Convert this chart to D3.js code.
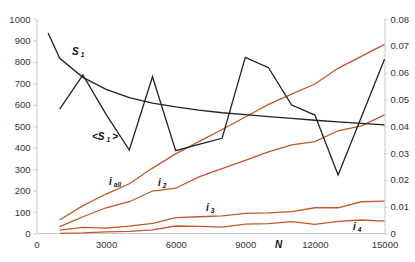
<!DOCTYPE html>
<meta charset="utf-8">
<title>S1, &lt;S1&gt; and i counts vs N</title>
<style>
    body {
        margin: 0;
        background: #fff;
        font-family: "Liberation Sans", Arial, sans-serif;
    }

    .axis path,
    .axis line {
        stroke: #c8c8c8;
    }

    .axis text {
        fill: #333;
        font-size: 9.5px;
        font-family: "Liberation Sans", Arial, sans-serif;
    }

    .lbl {
        font-weight: bold;
        font-style: italic;
        font-size: 10px;
        fill: #111;
    }

    .sub {
        font-size: 6.5px;
    }
</style>

<body>
    <svg width="415" height="262"></svg>

    <script src="https://d3js.org/d3.v7.min.js"></script>
    <script>
        // values
        const nS1 = [500, 1000, 2000, 3000, 4000, 5000, 6000, 7000, 8000, 9000, 10000, 11000, 12000, 13000, 14000, 15000];
        const s1 = [935, 817, 728, 672, 633, 608, 590, 575, 563, 554, 545, 537, 528, 520, 513, 506];

        const n = [1000, 2000, 3000, 4000, 5000, 6000, 7000, 8000, 9000, 10000, 11000, 12000, 13000, 14000, 15000];
        const s1Mean = [580, 739, 555, 389, 731, 386, 415, 444, 821, 773, 599, 552, 273, 542, 812];
        const iAll = [63, 130, 184, 232, 305, 371, 428, 485, 543, 602, 650, 697, 770, 826, 882];
        const i2 = [32, 78, 120, 148, 198, 211, 264, 302, 341, 381, 413, 428, 479, 502, 553];
        const i3 = [16, 29, 25, 34, 47, 74, 78, 82, 94, 96, 102, 120, 120, 148, 151];
        const i4 = [1, 3, 8, 10, 17, 35, 33, 30, 44, 46, 55, 43, 57, 63, 58];

        const xTicks = [0, 3000, 6000, 9000, 12000, 15000];
        const yTicks = [0, 100, 200, 300, 400, 500, 600, 700, 800, 900, 1000];
        const y2Ticks = [0, 0.01, 0.02, 0.03, 0.04, 0.05, 0.06, 0.07, 0.08];

        const svg = d3.select("svg");
        const plotL = 36.5, plotR = 384.5, plotT = 19, plotB = 233.5;

        const x = d3.scaleLinear().domain([0, 15000]).range([plotL, plotR]);
        const y = d3.scaleLinear().domain([0, 1000]).range([plotB, plotT]);
        const y2 = d3.scaleLinear().domain([0, 0.08]).range([plotB, plotT]);

        svg.append("g")
            .attr("class", "axis")
            .attr("transform", `translate(0,${plotB})`)
            .call(d3.axisBottom(x).tickValues(xTicks).tickSize(0).tickPadding(8).tickFormat(d3.format("d")))
            .call(g => g.select(".domain").attr("d", `M${plotL},0H${plotR}`));

        svg.append("g")
            .attr("class", "axis")
            .attr("transform", `translate(${plotL},0)`)
            .call(d3.axisLeft(y).tickValues(yTicks).tickSize(3).tickSizeOuter(0).tickPadding(3)
                .tickFormat(d3.format("d")));

        svg.append("g")
            .attr("class", "axis")
            .attr("transform", `translate(${plotR},0)`)
            .call(d3.axisRight(y2).tickValues(y2Ticks).tickSize(3).tickSizeOuter(0).tickPadding(3)
                .tickFormat(d => d === 0 ? "0" : d3.format(".2f")(d)));

        const line = d3.line().x(d => x(d[0])).y(d => y(d[1]));

        const series = [
            { xs: n, ys: i4, color: "#c0582a" },
            { xs: n, ys: i3, color: "#c0582a" },
            { xs: n, ys: i2, color: "#c0582a" },
            { xs: n, ys: iAll, color: "#c0582a" },
            { xs: nS1, ys: s1, color: "#222" },
            { xs: n, ys: s1Mean, color: "#222" }
        ];

        svg.append("g")
            .selectAll("path")
            .data(series)
            .join("path")
            .attr("fill", "none")
            .attr("stroke", d => d.color)
            .attr("stroke-width", 1.3)
            .attr("d", d => line(d.xs.map((v, i) => [v, d.ys[i]])));

        // series labels
        const labels = [
            { pre: "S", sub: "1", post: "", at: [72, 55] },
            { pre: "<S", sub: "1", post: ">", at: [92, 140] },
            { pre: "i", sub: "all", post: "", at: [109, 185] },
            { pre: "i", sub: "2", post: "", at: [158, 186] },
            { pre: "i", sub: "3", post: "", at: [206, 211] },
            { pre: "i", sub: "4", post: "", at: [353, 230] }
        ];

        labels.forEach(l => {
            const t = svg.append("text").attr("class", "lbl")
                .attr("x", l.at[0]).attr("y", l.at[1]);
            t.append("tspan").text(l.pre);
            t.append("tspan").attr("class", "sub").attr("dx", 2).attr("dy", 2).text(l.sub);
            if (l.post) t.append("tspan").attr("dx", 2).attr("dy", -2).text(l.post);
        });

        svg.append("text").attr("class", "lbl")
            .attr("x", 275).attr("y", 248).text("N");
    </script>
</body>

</html>
